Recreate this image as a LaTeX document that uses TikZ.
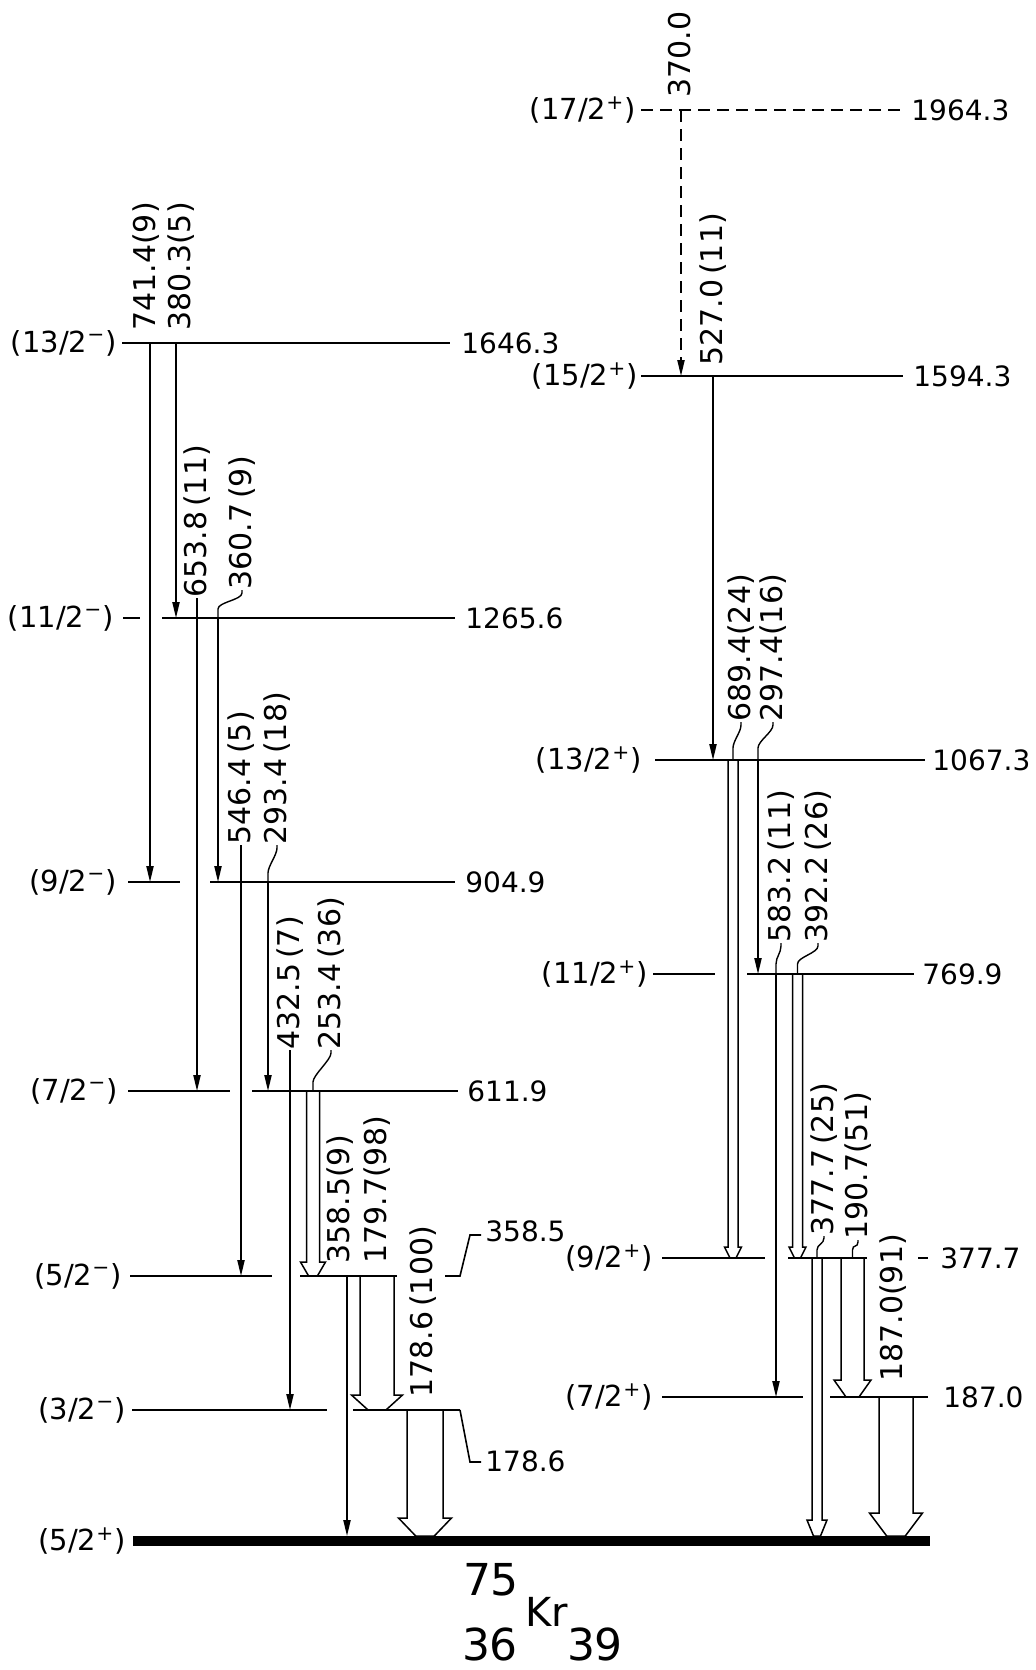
\documentclass[tikz,border=0pt]{standalone}
\usepackage{fontspec}
\setmainfont{DejaVu Sans}
\usetikzlibrary{arrows.meta, calc}

% open (hollow) transition: x, from level, to level, shaft half width, head half width, head length
\newcommand{\hollowgam}[6]{%
  \draw[fat] ($(#1,0 |- #2)+(-#4,0)$) -- ($(#1,0 |- #3)+(-#4,-#6)$) -- ++(#4-#5,0)
    -- ($(#1,0 |- #3)+(-0.35*#5,0)$) -- ++(0.7*#5,0) -- ($(#1,0 |- #3)+(#5,-#6)$)
    -- ++(#4-#5,0) -- ($(#1,0 |- #2)+(#4,0)$);}

\begin{document}
\begin{tikzpicture}[x=0.5pt, y=-0.5pt,
    lvl/.style={line width=0.8pt},
    gam/.style={-{Triangle[length=8pt, width=3.6pt]}, line width=0.75pt},
    fat/.style={line width=0.75pt},
    lead/.style={line width=0.7pt},
    glab/.style={rotate=90, anchor=west, inner sep=0pt, font=\fontsize{15}{18}\selectfont},
    spin/.style={anchor=east, inner sep=0pt, font=\fontsize{14.5}{18}\selectfont},
    en/.style={anchor=west, inner sep=0pt, font=\fontsize{14}{18}\selectfont},
    nuc/.style={inner sep=0pt, font=\fontsize{22}{24}\selectfont},
  ]
  \useasboundingbox (0,0) rectangle (1035,1670);

  % negative parity band
  \coordinate (e1646) at (0,343);
  \coordinate (e1265) at (0,618);
  \coordinate (e904) at (0,882);
  \coordinate (e611) at (0,1091);
  \coordinate (e358) at (0,1276);
  \coordinate (e178) at (0,1410);
  \coordinate (e0) at (0,1536);
  % positive parity band
  \coordinate (e1964) at (0,110);
  \coordinate (e1594) at (0,376);
  \coordinate (e1067) at (0,760);
  \coordinate (e769) at (0,974);
  \coordinate (e377) at (0,1258);
  \coordinate (e187) at (0,1397);

  % levels, left
  \draw[lvl] (122,0 |- e1646) -- (450,0 |- e1646);
  \draw[lvl] (123,0 |- e1265) -- (140,0 |- e1265) (162,0 |- e1265) -- (455,0 |- e1265);
  \draw[lvl] (128,0 |- e904) -- (180,0 |- e904) (210,0 |- e904) -- (455,0 |- e904);
  \draw[lvl] (128,0 |- e611) -- (230,0 |- e611) (252,0 |- e611) -- (458,0 |- e611);
  \draw[lvl] (130,0 |- e358) -- (272,0 |- e358) (300,0 |- e358) -- (397,0 |- e358);
  \draw[lvl] (132,0 |- e178) -- (327,0 |- e178) (353,0 |- e178) -- (460,0 |- e178);
  \fill (133,0 |- e0) rectangle (930,1546);
  % levels, right
  \draw[lvl, dash pattern=on 6pt off 3.5pt] (641,0 |- e1964) -- (903,0 |- e1964);
  \draw[lvl] (641,0 |- e1594) -- (903,0 |- e1594);
  \draw[lvl] (655,0 |- e1067) -- (925,0 |- e1067);
  \draw[lvl] (653,0 |- e769) -- (715,0 |- e769) (747,0 |- e769) -- (914,0 |- e769);
  \draw[lvl] (662,0 |- e377) -- (765,0 |- e377) (788,0 |- e377) -- (867,0 |- e377)
    (918,0 |- e377) -- (928,0 |- e377);
  \draw[lvl] (662,0 |- e187) -- (803,0 |- e187) (830,0 |- e187) -- (928,0 |- e187);

  % spins
  \node[spin] (s1646) at (117,0 |- e1646) {(13/2\textsuperscript{−})};
  \node[spin] (s1265) at (114,0 |- e1265) {(11/2\textsuperscript{−})};
  \node[spin] (s904) at (117,0 |- e904) {(9/2\textsuperscript{−})};
  \node[spin] (s611) at (118,0 |- e611) {(7/2\textsuperscript{−})};
  \node[spin] (s358) at (122,0 |- e358) {(5/2\textsuperscript{−})};
  \node[spin] (s178) at (126,0 |- e178) {(3/2\textsuperscript{−})};
  \node[spin] (s0) at (126,1541) {(5/2\textsuperscript{+})};
  \node[spin] (s1964) at (636,0 |- e1964) {(17/2\textsuperscript{+})};
  \node[spin] (s1594) at (638,0 |- e1594) {(15/2\textsuperscript{+})};
  \node[spin] (s1067) at (642,0 |- e1067) {(13/2\textsuperscript{+})};
  \node[spin] (s769) at (648,0 |- e769) {(11/2\textsuperscript{+})};
  \node[spin] (s377) at (653,0 |- e377) {(9/2\textsuperscript{+})};
  \node[spin] (s187) at (653,0 |- e187) {(7/2\textsuperscript{+})};

  % energies
  \node[en] (n1646) at (461,0 |- e1646) {1646.3};
  \node[en] (n1265) at (465,0 |- e1265) {1265.6};
  \node[en] (n904) at (465,0 |- e904) {904.9};
  \node[en] (n611) at (467,0 |- e611) {611.9};
  \node[en] (n358) at (485,1231) {358.5};
  \node[en] (n178) at (485,1461) {178.6};
  \node[en] (n1964) at (911,0 |- e1964) {1964.3};
  \node[en] (n1594) at (913,0 |- e1594) {1594.3};
  \node[en] (n1067) at (932,0 |- e1067) {1067.3};
  \node[en] (n769) at (922,0 |- e769) {769.9};
  \node[en] (n377) at (940,0 |- e377) {377.7};
  \node[en] (n187) at (943,0 |- e187) {187.0};
  \draw[lvl] (445,0 |- e358) -- (460,0 |- e358) -- ($(n358.west)+(-15,4)$) -- ($(n358.west)+(-4,4)$);
  \draw[lvl] (460,0 |- e178) -- ($(n178.west)+(-15,1)$) -- ($(n178.west)+(-4,1)$);

  % transitions, left
  \draw[gam] (150,0 |- e1646) -- (150,0 |- e904);
  \draw[gam] (176,0 |- e1646) -- (176,0 |- e1265);
  \draw[gam] (197,0 |- e1265) -- (197,0 |- e611);
  \draw[gam] (218,0 |- e1265) -- (218,0 |- e904);
  \draw[gam] (241,0 |- e904) -- (241,0 |- e358);
  \draw[gam] (268,0 |- e904) -- (268,0 |- e611);
  \draw[gam] (290,0 |- e611) -- (290,0 |- e178);
  \hollowgam{313}{e611}{e358}{6.5}{12.5}{14}
  \draw[gam] (347,0 |- e358) -- (347,0 |- e0);
  \hollowgam{377}{e358}{e178}{17}{25.5}{15}
  \hollowgam{425}{e178}{e0}{18}{26.5}{18}
  % transitions, right
  \draw[gam, dash pattern=on 6pt off 3.5pt] (681,0 |- e1964) -- (681,0 |- e1594);
  \draw[gam] (713,0 |- e1594) -- (713,0 |- e1067);
  \hollowgam{733}{e1067}{e377}{5}{8.5}{11}
  \draw[gam] (758,0 |- e1067) -- (758,0 |- e769);
  \draw[gam] (776,0 |- e769) -- (776,0 |- e187);
  \hollowgam{797.5}{e769}{e377}{5}{8.5}{11}
  \hollowgam{817}{e377}{e0}{5}{10}{16}
  \hollowgam{852.5}{e377}{e187}{11.5}{18.5}{17}
  \hollowgam{896}{e187}{e0}{17}{26.5}{23}

  % gamma energies and intensities
  \node[glab] (g7414) at (146,331) {741.4(9)};
  \node[glab] (g3803) at (181,331) {380.3(5)};
  \node[glab] (g6538) at (197,598) {653.8\,(11)};
  \node[glab] (g3607) at (242,590) {360.7\,(9)};
  \node[glab] (g5464) at (241,845) {546.4\,(5)};
  \node[glab] (g2934) at (277,845) {293.4\,(18)};
  \node[glab] (g4325) at (290,1050) {432.5\,(7)};
  \node[glab] (g2534) at (331,1050) {253.4\,(36)};
  \node[glab] (g3585) at (340,1264) {358.5(9)};
  \node[glab] (g1797) at (377,1264) {179.7(98)};
  \node[glab] (g1786) at (423,1398) {178.6\,(100)};
  \node[glab] (g3700) at (680,98) {370.0};
  \node[glab] (g5270) at (713,366) {527.0\,(11)};
  \node[glab] (g6894) at (741,722) {689.4(24)};
  \node[glab] (g2974) at (773,722) {297.4(16)};
  \node[glab] (g5832) at (781,943) {583.2\,(11)};
  \node[glab] (g3922) at (818,943) {392.2\,(26)};
  \node[glab] (g3777) at (824,1236) {377.7\,(25)};
  \node[glab] (g1907) at (858,1240) {190.7(51)};
  \node[glab] (g1870) at (893,1382) {187.0(91)};

  % leaders from labels to their lines
  \draw[lead] (g6538.west) -- (197,0 |- e1265);
  \draw[lead] (g3607.west) -- ++(0,3) .. controls +(0,7) and +(0,-7) .. ($(218,0 |- e1265)+(0,-9)$) -- (218,0 |- e1265);
  \draw[lead] (g5464.west) -- (241,0 |- e904);
  \draw[lead] (g2934.west) -- ++(0,3) .. controls +(0,7) and +(0,-7) .. ($(268,0 |- e904)+(0,-9)$) -- (268,0 |- e904);
  \draw[lead] (g4325.west) -- (290,0 |- e611);
  \draw[lead] (g2534.west) -- ++(0,3) .. controls +(0,7) and +(0,-7) .. ($(313,0 |- e611)+(0,-9)$) -- (313,0 |- e611);
  \draw[lead] (g6894.west) -- ++(0,3) .. controls +(0,7) and +(0,-7) .. ($(733,0 |- e1067)+(0,-12)$) -- (733,0 |- e1067);
  \draw[lead] (g2974.west) -- ++(0,3) .. controls +(0,7) and +(0,-7) .. ($(758,0 |- e1067)+(0,-12)$) -- (758,0 |- e1067);
  \draw[lead] (g5832.west) -- ++(0,3) .. controls +(0,7) and +(0,-7) .. ($(776,0 |- e769)+(0,-10)$) -- (776,0 |- e769);
  \draw[lead] (g3922.west) -- ++(0,3) .. controls +(0,7) and +(0,-7) .. ($(797.5,0 |- e769)+(0,-10)$) -- (797.5,0 |- e769);
  \draw[lead] (g3777.west) -- ++(0,2) .. controls +(0,6) and +(0,-6) .. ($(817,0 |- e377)+(0,-8)$) -- (817,0 |- e377);
  \draw[lead] (g1907.west) -- ++(0,2) .. controls +(0,6) and +(0,-6) .. ($(852.5,0 |- e377)+(0,-8)$) -- (852.5,0 |- e377);

  % nucleus
  \node[nuc] (mass) at (491,1580) {75};
  \node[nuc, font=\fontsize{20}{22}\selectfont] (sym) at (547,1612) {Kr};
  \node[nuc] (zz) at (490,1644) {36};
  \node[nuc] (nn) at (595,1644) {39};
\end{tikzpicture}
\end{document}
